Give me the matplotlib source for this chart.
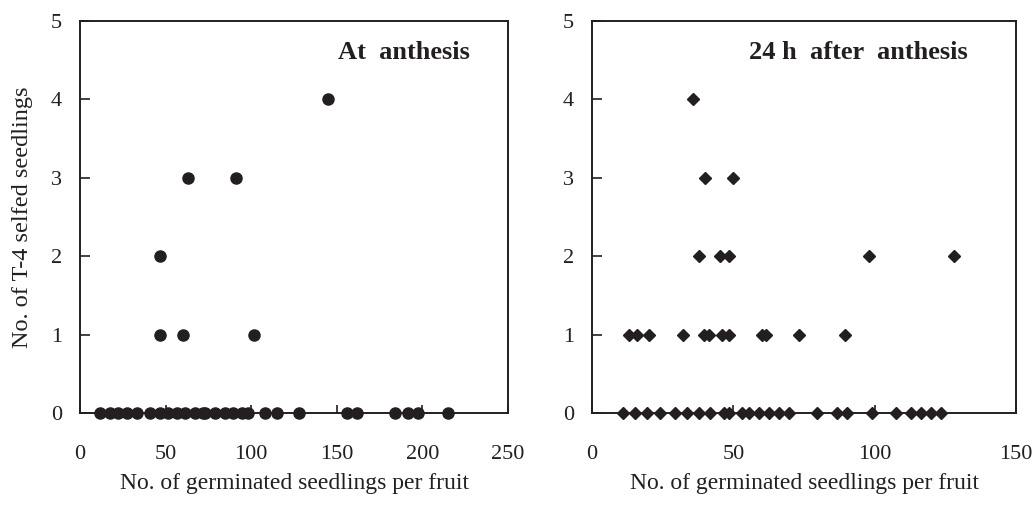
import matplotlib
matplotlib.use("Agg")
import matplotlib.pyplot as plt

plt.rcParams["font.family"] = ["Liberation Serif", "DejaVu Serif"]

# At anthesis (left panel)
left_x = [11.7, 17.5, 22.4, 27.3, 33.1, 40.9, 46.7, 51.6, 56.5, 61.3, 67.2, 72,
          73, 78.9, 84.7, 89.6, 94.4, 98.3, 108, 115, 128, 156, 162, 184, 191.6,
          197.4, 215,
          46.7, 60, 101.6,
          46.7,
          63, 91,
          145]
left_y = [0] * 27 + [1, 1, 1] + [2] + [3, 3] + [4]

# 24 h after anthesis (right panel)
right_x = [11.1, 15.2, 19.4, 23.9, 29.4, 33.6, 37.7, 41.8, 46.6, 48.3, 53.1, 55.4,
           59, 62.5, 66, 69.6, 79.7, 86.8, 90.3, 99.2, 107.4, 112.8, 116.3, 119.9,
           123.4,
           13.2, 16, 20.2, 32.2, 39.7, 41.3, 46, 48.3, 60, 61.4, 73.4, 89.5,
           38, 45.4, 48.3, 98, 128,
           40, 50,
           35.8]
right_y = [0] * 25 + [1] * 12 + [2] * 5 + [3] * 2 + [4]

ink = "#231f20"

fig = plt.figure(figsize=(10.34, 5.07), dpi=100)
ax1 = fig.add_axes([80 / 1034, 94 / 507, 428 / 1034, 392 / 507])
ax2 = fig.add_axes([592 / 1034, 94 / 507, 424 / 1034, 392 / 507])

ax1.plot(left_x, left_y, "o", color=ink, markersize=8, clip_on=False, zorder=3)
ax2.plot(right_x, right_y, "D", color=ink, markersize=6.5, clip_on=False, zorder=3)

for ax, xmax, xstep, title, tx in [(ax1, 250, 50, "At  anthesis", 0.911),
                                   (ax2, 150, 50, "24 h  after  anthesis", 0.887)]:
    ax.set_xlim(0, xmax)
    ax.set_ylim(0, 5)
    ax.set_xticks(range(0, xmax + 1, xstep))
    ax.set_yticks(range(0, 6))
    for s in ax.spines.values():
        s.set_linewidth(1.4)
        s.set_color(ink)
    ax.tick_params(axis="y", direction="in", length=7, width=1.2, pad=13,
                   labelsize=16, colors=ink)
    ax.tick_params(axis="x", direction="in", length=6, width=1.2, pad=23,
                   labelsize=16, colors=ink)
    ax.set_xlabel("No. of germinated seedlings per fruit", fontsize=17, color=ink)
    ax.xaxis.set_label_coords(0.5, -0.152)
    ax.text(tx, 0.92, title, transform=ax.transAxes, ha="right", va="center",
            fontsize=19, fontweight="bold", color=ink)

ax1.set_ylabel("No. of T-4 selfed seedlings", fontsize=17.5, color=ink)
ax1.yaxis.set_label_coords(-0.11, 0.5)

fig.savefig("out.png", dpi=100)
